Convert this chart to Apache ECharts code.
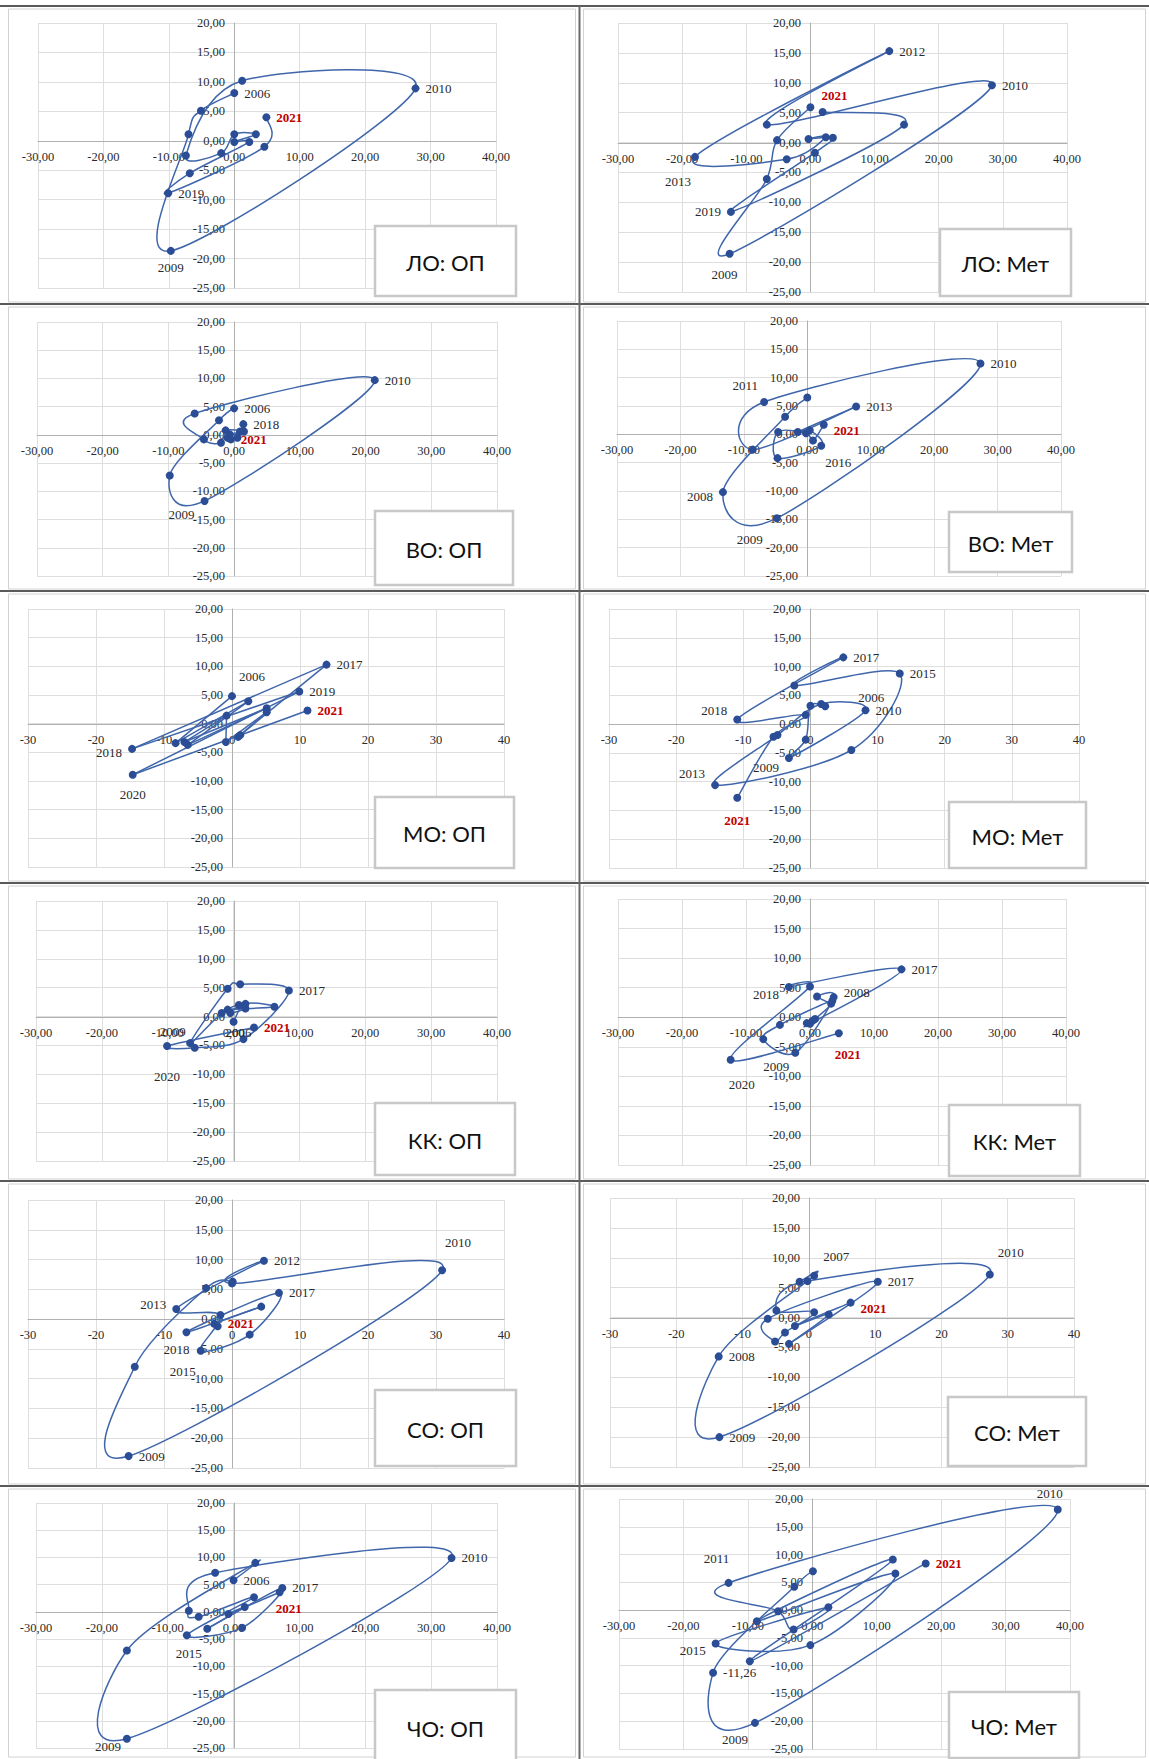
<!DOCTYPE html>
<html>
<head>
<meta charset="utf-8">
<script src="https://cdn.jsdelivr.net/npm/echarts@6/dist/echarts.min.js"></script>
<style>
  html, body { margin: 0; padding: 0; background: #ffffff; }
  #c { width: 1149px; height: 1759px; }
</style>
</head>
<body>
<div id="c"></div>
<script>
// Years of the phase trajectories (one point per year)
const years = [2006, 2007, 2008, 2009, 2010, 2011, 2012, 2013, 2014, 2015, 2016, 2017, 2018, 2019, 2020, 2021];

// Axis ticks shared by every panel
const xTicks = [-30, -20, -10, 0, 10, 20, 30, 40];
const yTicks = [-25, -20, -15, -10, -5, 0, 5, 10, 15, 20];

const panelTitles = ['ЛО: ОП', 'ЛО: Мет', 'ВО: ОП', 'ВО: Мет', 'МО: ОП', 'МО: Мет',
                     'КК: ОП', 'КК: Мет', 'СО: ОП', 'СО: Мет', 'ЧО: ОП', 'ЧО: Мет'];

// [x, y] for 2006..2021
const loOp = [[0, 8.1], [-5.1, 5.1], [-7.0, 1.1], [-9.7, -18.7], [27.7, 8.9], [1.2, 10.2], [-7.4, -2.5], [-2.0, -2.1],
              [0, 1.1], [3.3, 1.1], [0, -0.2], [2.3, -0.2], [-6.8, -5.5], [-10.1, -8.9], [4.6, -1.0], [4.9, 4.0]];
const loMet = [[0, 5.9], [-5.2, 0.4], [-6.8, -6.1], [-12.6, -18.6], [28.3, 9.6], [-6.8, 3.0], [12.3, 15.3], [-18.0, -2.4],
               [-3.7, -2.8], [2.4, 0.9], [-0.3, 0.6], [3.5, 0.8], [0.7, -1.7], [-12.4, -11.6], [14.6, 3.0], [1.9, 5.1]];
const voOp = [[0, 4.7], [-2.3, 2.6], [-9.8, -7.2], [-4.5, -11.7], [21.4, 9.7], [-6.0, 3.8], [-4.6, -0.8], [-2.0, -1.4],
              [-1.3, 0.8], [1.5, 0.6], [-0.7, 0.1], [0.5, -0.5], [1.4, 1.9], [0.9, 0.6], [-1.0, -0.5], [-0.5, -0.8]];
const voMet = [[0, 6.5], [-3.5, 3.1], [-13.3, -10.2], [-4.8, -14.8], [27.3, 12.5], [-6.8, 5.7], [-8.6, -2.7], [7.7, 4.9],
               [-1.5, 0.4], [0.4, 0.7], [2.2, -2.0], [-4.7, -4.2], [-4.6, 0.4], [-0.2, 0.2], [0.9, -1.1], [2.6, 1.7]];
const moOp = [[0, 4.8], [-8.3, -3.4], [2.4, 3.9], [-6.5, -3.7], [5.1, 2.7], [-7.0, -3.2], [-0.8, 1.4], [-0.9, -3.2],
              [5.1, 2.0], [0.9, -2.3], [1.2, -2.0], [13.9, 10.3], [-14.7, -4.4], [9.9, 5.6], [-14.6, -8.9], [11.1, 2.3]];
const moMet = [[2.2, 3.1], [0, 3.2], [-0.7, -2.7], [-3.2, -5.9], [8.2, 2.4], [1.6, 3.5], [-4.9, -1.9], [-14.2, -10.6],
               [6.1, -4.5], [13.3, 8.8], [-2.4, 6.7], [4.9, 11.6], [-10.9, 0.8], [-0.7, 1.6], [-5.5, -2.2], [-10.9, -12.8]];
const kkOp = [[0, -0.9], [1.8, 2.2], [6.2, 1.7], [-0.9, 1.2], [1.8, 1.4], [-0.5, 0.6], [0.8, 2.0], [-1.8, 0.6],
              [-6.6, -4.6], [-0.9, 4.8], [1.0, 5.6], [8.4, 4.5], [1.5, -3.9], [-5.9, -5.4], [-10.1, -5.1], [3.1, -1.9]];
const kkMet = [[3.3, 2.3], [1.1, 3.5], [3.7, 3.4], [-2.3, -6.0], [-7.3, -3.7], [-4.7, -1.3], [3.5, 2.8], [0.8, -0.3],
               [-0.5, -1.0], [0.4, -0.6], [0, -1.1], [14.3, 8.1], [-3.3, 5.1], [0, 5.2], [-12.4, -7.2], [4.5, -2.7]];
const soOp = [[0.1, 6.3], [-3.8, 5.2], [-14.3, -8.0], [-15.2, -23.0], [30.9, 8.2], [0, 6.0], [4.7, 9.8], [-8.2, 1.7],
              [-1.7, 0.7], [-4.6, -5.3], [2.6, -2.6], [6.9, 4.4], [-6.7, -2.2], [4.3, 2.1], [-2.6, -0.8], [-2.1, -1.2]];
const soMet = [[-1.4, 6.0], [0.8, 7.0], [-13.6, -6.5], [-13.5, -20.0], [27.3, 7.2], [-0.2, 6.1], [-4.9, 1.2], [0.8, 0.9],
               [-3.6, -2.5], [-5.1, -4.0], [-6.2, -0.2], [10.4, 6.0], [-3.0, -4.4], [3.0, 0.5], [-2.1, -1.4], [6.3, 2.5]];
const choOp = [[0, 5.8], [3.3, 9.0], [-16.2, -7.1], [-16.2, -23.3], [33.1, 9.9], [-2.8, 7.2], [-6.8, 0.2], [-5.3, -0.9],
               [3.1, 2.7], [-7.1, -4.3], [1.3, -2.9], [7.4, 4.4], [-4.0, -3.1], [1.7, 0.9], [-0.8, -0.4], [7.0, 3.6]];
const choMet = [[0.1, 7.0], [-2.8, 4.2], [-15.4, -11.26], [-8.9, -20.3], [38.1, 18.1], [-13.0, 4.9], [-5.3, -0.2], [-2.9, -3.5],
                [2.5, 0.5], [-15.0, -6.0], [-0.3, -6.3], [12.9, 6.6], [-8.6, -2.0], [12.5, 9.1], [-9.7, -9.2], [17.6, 8.4]];

const panelData = [loOp, loMet, voOp, voMet, moOp, moMet, kkOp, kkMet, soOp, soMet, choOp, choMet];

// Which years carry a label, and where the label sits: [position, offset, text mode]
const yearLabels = [
  {2006: ['right'], 2009: ['bottom'], 2010: ['right'], 2019: ['right'], 2021: ['right']},
  {2009: ['bottom', [-5, 4]], 2010: ['right'], 2012: ['right'], 2013: ['bottom', [-17, 8]], 2019: ['left'], 2021: ['top', [12, 0]]},
  {2006: ['right'], 2009: ['left', [0, 14]], 2010: ['right'], 2018: ['right'], 2021: ['right']},
  {2008: ['left', [0, 4]], 2009: ['bottom', [-27, 5]], 2010: ['right'], 2011: ['top', [-19, 0]], 2013: ['right'], 2016: ['bottom', [17, 0]], 2021: ['right', [0, 6]]},
  {2006: ['top', [20, -3]], 2017: ['right'], 2018: ['left', [0, 4]], 2019: ['right'], 2020: ['bottom', [0, 3]], 2021: ['right']},
  {2006: ['right', [23, -9]], 2009: ['left', [0, 9]], 2010: ['right'], 2013: ['left', [0, -12]], 2015: ['right'], 2017: ['right'], 2018: ['left', [0, -9]], 2021: ['bottom', [0, 6]]},
  {2006: ['bottom', [5, -6]], 2009: ['left', [-32, 22]], 2017: ['right'], 2020: ['bottom', [0, 14]], 2021: ['right']},
  {2008: ['right', [0, -5]], 2009: ['bottom', [-19, -3]], 2017: ['right'], 2018: ['left', [0, 7]], 2020: ['bottom', [11, 8]], 2021: ['bottom', [9, 5]]},
  {2009: ['right'], 2010: ['top', [16, -11]], 2012: ['right'], 2013: ['left', [0, -4]], 2015: ['bottom', [-18, 4]], 2017: ['right'], 2018: ['bottom', [-10, 1]], 2021: ['right', [0, -3]]},
  {2007: ['top', [22, -3]], 2008: ['right'], 2009: ['right'], 2010: ['top', [21, -6]], 2017: ['right'], 2021: ['right', [0, 6]]},
  {2006: ['right'], 2009: ['left', [4, 8]], 2010: ['right'], 2015: ['bottom', [2, 2]], 2017: ['right'], 2021: ['bottom', [9, 0]]},
  {2008: ['right', null, 'value'], 2009: ['bottom', [-20, 0]], 2010: ['top', [-8, 0]], 2011: ['top', [-12, -8]], 2015: ['left', [0, 7]], 2021: ['right']}
];

// Page layout of each panel: plot grid [left, top, width, height], caption box, label style of x axis, smoothing
const layout = [
  {grid: [38, 23, 458, 265],   box: [375, 226, 141, 70],  intX: false, smooth: true},
  {grid: [618, 23, 449, 269],  box: [940, 229, 131, 67],  intX: false, smooth: true},
  {grid: [37, 322, 460, 254],  box: [375, 511, 138, 74],  intX: false, smooth: true},
  {grid: [617, 321, 444, 255], box: [949, 512, 123, 60],  intX: false, smooth: true},
  {grid: [28, 609, 476, 258],  box: [375, 797, 139, 71],  intX: true,  smooth: false},
  {grid: [609, 609, 470, 259], box: [949, 802, 137, 66],  intX: true,  smooth: true},
  {grid: [36, 901, 461, 260],  box: [375, 1103, 140, 72], intX: false, smooth: true},
  {grid: [618, 899, 448, 266], box: [949, 1105, 131, 71], intX: false, smooth: true},
  {grid: [28, 1200, 476, 268], box: [375, 1390, 141, 76], intX: true,  smooth: true},
  {grid: [610, 1198, 464, 269],box: [948, 1397, 138, 69], intX: true,  smooth: true},
  {grid: [36, 1503, 461, 245], box: [375, 1690, 141, 75], intX: false, smooth: true},
  {grid: [619, 1499, 451, 250],box: [949, 1692, 130, 66], intX: false, smooth: true}
];

const LINE_COLOR = '#3f66ab';
const DOT_COLOR = '#2b4d95';
const AXIS_FONT = 'Liberation Serif';
const TEXT_COLOR = '#2a2a2a';

const comma = v => v.toFixed(2).replace('.', ',');

// where the zero of each axis falls inside the plot, as a fraction of its extent
const zeroFracX = (0 - xTicks[0]) / (xTicks[xTicks.length - 1] - xTicks[0]);
const zeroFracY = (0 - yTicks[0]) / (yTicks[yTicks.length - 1] - yTicks[0]);

// Excel-like smoothed connector: cubic Bezier per segment with Catmull-Rom tangents
function segmentRenderer(pts, smooth) {
  return function (params, api) {
    const i = params.dataIndex;
    const n = pts.length;
    if (i >= n - 1) return null;
    const c = k => api.coord(pts[Math.max(0, Math.min(n - 1, k))]);
    const p0 = c(i - 1), p1 = c(i), p2 = c(i + 1), p3 = c(i + 2);
    const style = {stroke: LINE_COLOR, lineWidth: 1.5, fill: 'none'};
    if (!smooth) {
      return {type: 'line', shape: {x1: p1[0], y1: p1[1], x2: p2[0], y2: p2[1]}, style: style};
    }
    const t = 1 / 6;
    return {
      type: 'bezierCurve',
      shape: {
        x1: p1[0], y1: p1[1], x2: p2[0], y2: p2[1],
        cpx1: p1[0] + (p2[0] - p0[0]) * t, cpy1: p1[1] + (p2[1] - p0[1]) * t,
        cpx2: p2[0] - (p3[0] - p1[0]) * t, cpy2: p2[1] - (p3[1] - p1[1]) * t
      },
      style: style
    };
  };
}

const grids = [], xAxes = [], yAxes = [], series = [], graphics = [];

panelData.forEach((pts, i) => {
  const L = layout[i];
  grids.push({left: L.grid[0], top: L.grid[1], width: L.grid[2], height: L.grid[3],
              containLabel: false, outerBoundsMode: 'none'});
  // axes cross at the origin: shift each axis from the plot edge to the zero of the other one
  xAxes.push({
    type: 'value', gridIndex: i, position: 'bottom',
    offset: -Math.round(L.grid[3] * zeroFracY),
    min: xTicks[0], max: xTicks[xTicks.length - 1], interval: xTicks[1] - xTicks[0],
    axisLine: {show: true, onZero: false, lineStyle: {color: '#b0b0b0', width: 1}},
    axisTick: {show: false},
    splitLine: {show: true, lineStyle: {color: '#dedede', width: 1}},
    axisLabel: {margin: 9, fontFamily: AXIS_FONT, fontSize: 12.5, color: TEXT_COLOR,
                formatter: v => L.intX ? String(v) : comma(v)}
  });
  yAxes.push({
    type: 'value', gridIndex: i, position: 'left',
    offset: -Math.round(L.grid[2] * zeroFracX),
    min: yTicks[0], max: yTicks[yTicks.length - 1], interval: yTicks[1] - yTicks[0],
    axisLine: {show: true, onZero: false, lineStyle: {color: '#b0b0b0', width: 1}},
    axisTick: {show: false},
    splitLine: {show: true, lineStyle: {color: '#dedede', width: 1}},
    axisLabel: {margin: 9, fontFamily: AXIS_FONT, fontSize: 12.5, color: TEXT_COLOR, formatter: v => comma(v)}
  });

  series.push({
    type: 'custom', xAxisIndex: i, yAxisIndex: i,
    data: pts, renderItem: segmentRenderer(pts, L.smooth),
    z: 2, silent: true, animation: false
  });

  const labs = yearLabels[i];
  series.push({
    type: 'scatter', xAxisIndex: i, yAxisIndex: i,
    symbolSize: 8, itemStyle: {color: DOT_COLOR, opacity: 1},
    z: 3, silent: true, animation: false,
    data: pts.map((pt, k) => {
      const yr = years[k];
      const item = {value: pt};
      const cfg = labs[yr];
      if (cfg) {
        const red = yr === 2021;
        item.label = {
          show: true,
          position: cfg[0],
          offset: cfg[1] || [0, 0],
          distance: 6,
          formatter: cfg[2] === 'value' ? comma(pt[1]) : String(yr),
          fontFamily: AXIS_FONT,
          fontSize: 13,
          fontWeight: red ? 'bold' : 'normal',
          color: red ? '#c00000' : TEXT_COLOR
        };
      }
      return item;
    })
  });

  // caption box
  const b = L.box;
  graphics.push({
    type: 'rect', z: 100, silent: true,
    shape: {x: b[0], y: b[1], width: b[2], height: b[3]},
    style: {fill: '#ffffff', stroke: '#c8c8c8', lineWidth: 2.5}
  });
  graphics.push({
    type: 'text', z: 101, silent: true,
    x: b[0] + b[2] / 2, y: b[1] + b[3] / 2 + 1,
    style: {text: panelTitles[i], fontFamily: 'Lato', fontSize: 22, fill: '#111111',
            align: 'center', verticalAlign: 'middle', textAlign: 'center', textVerticalAlign: 'middle'}
  });
});

// panel frames and separators
const rowEdges = [6, 304, 591, 883, 1181, 1486, 1759];
for (let r = 0; r < rowEdges.length - 1; r++) {
  const y0 = rowEdges[r] + 3, h = rowEdges[r + 1] - rowEdges[r] - 5;
  graphics.push({type: 'rect', z: 0, silent: true, shape: {x: 8.5, y: y0, width: 567, height: h},
                 style: {fill: 'none', stroke: '#d2d2d2', lineWidth: 1}});
  graphics.push({type: 'rect', z: 0, silent: true, shape: {x: 583.5, y: y0, width: 562, height: h},
                 style: {fill: 'none', stroke: '#d2d2d2', lineWidth: 1}});
}
rowEdges.slice(0, -1).forEach(y => {
  graphics.push({type: 'line', z: 0, silent: true, shape: {x1: 0, y1: y, x2: 1149, y2: y},
                 style: {stroke: '#5a5a5a', lineWidth: 2}});
});
graphics.push({type: 'line', z: 0, silent: true, shape: {x1: 579.5, y1: 6, x2: 579.5, y2: 1759},
               style: {stroke: '#6a6a6a', lineWidth: 2}});

const chart = echarts.init(document.getElementById('c'), null, {renderer: 'svg', width: 1149, height: 1759});
chart.setOption({
  animation: false,
  backgroundColor: '#ffffff',
  grid: grids,
  xAxis: xAxes,
  yAxis: yAxes,
  series: series,
  graphic: {elements: graphics}
});
</script>
</body>
</html>
